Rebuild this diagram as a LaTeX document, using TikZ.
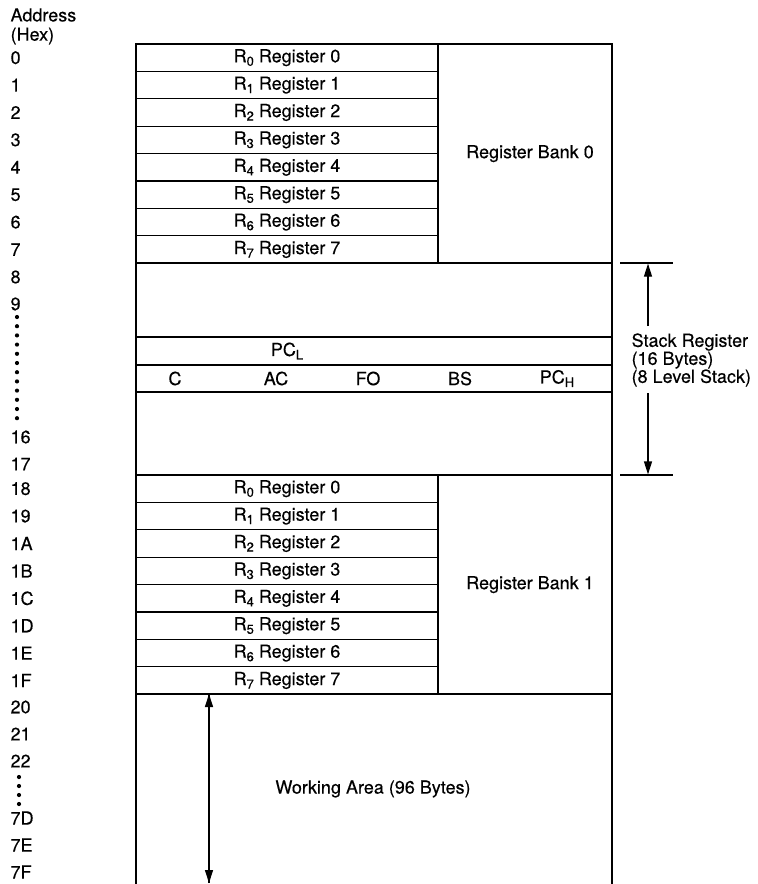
\documentclass[tikz,border=0pt]{standalone}
\usepackage{fontspec}
\setmainfont{TeX Gyre Heros}[FakeBold=0.35]
\usetikzlibrary{arrows.meta}
\newcommand\lowsub[1]{\raisebox{-3.5pt}{\fontsize{13}{13}\selectfont #1}}
\begin{document}
\begin{tikzpicture}[x=1pt,y=-1pt,line width=1.2pt,
  font=\fontsize{18}{18}\selectfont,
  txt/.style={inner sep=0pt},
  addr/.style={txt,anchor=west},
  regcell/.style={draw,anchor=north west,minimum width=302pt,minimum height=27.4pt,inner sep=0pt,outer sep=0pt},
  bankcell/.style={draw,anchor=north west,minimum width=174pt,minimum height=219.2pt,inner sep=0pt,outer sep=0pt},
  widecell/.style={draw,anchor=north west,minimum width=476pt,inner sep=0pt,outer sep=0pt},
  dimarrow/.style={-{Triangle[length=13pt,width=8pt]},line width=1.2pt},
  dot/.style={fill,circle,inner sep=0pt,minimum size=4.2pt}]
\useasboundingbox (0,0) rectangle (758,884);
% header
\node[addr] (hdr1) at (10,15) {Address};
\node[addr] (hdr2) at (10,36) {(Hex)};
% register bank 0
\foreach \i in {0,...,7}
  \node[regcell] (b0r\i) at (136,{44+27.4*\i}) {R\lowsub{\i} Register \i};
\node[bankcell] (bank0) at (438,44) {\hspace*{10pt}Register Bank 0};
% stack area
\node[widecell,minimum height=74pt] (stk1) at (136,263) {};
\node[widecell,minimum height=28pt] (stk2) at (136,337) {};
\node[widecell,minimum height=27pt] (stk3) at (136,365) {};
\node[widecell,minimum height=83pt] (stk4) at (136,392) {};
\node[txt] (pcl) at (287,351) {PC\lowsub{L}};
\node[txt] (fc) at (175,378.5) {C};
\node[txt] (fac) at (276,378.5) {AC};
\node[txt] (ffo) at (368,378.5) {FO};
\node[txt] (fbs) at (460,378.5) {BS};
\node[txt] (fpch) at (557,378.5) {PC\lowsub{H}};
% register bank 1
\foreach \i in {0,...,7}
  \node[regcell] (b1r\i) at (136,{475+27.4*\i}) {R\lowsub{\i} Register \i};
\node[bankcell] (bank1) at (438,475) {\hspace*{10pt}Register Bank 1};
% working area
\draw (136,884) -- (136,694) -- (612,694) -- (612,884);
\node[txt] (work) at (373,789) {Working Area (96 Bytes)};
\coordinate (wtop) at (209,694);
\coordinate (wbot) at (209,883);
\draw[dimarrow] (wtop) -- (wbot);
\draw[dimarrow] (wbot) -- (wtop);
% stack register dimension
\coordinate (tk1a) at (620,263);
\coordinate (tk1b) at (673,263);
\coordinate (tk2a) at (620,475);
\coordinate (tk2b) at (673,475);
\draw (tk1a) -- (tk1b);
\draw (tk2a) -- (tk2b);
\node[txt,anchor=west,align=left] (stklbl) at (631,360)
  {Stack Register\\[0pt](16 Bytes)\\[0pt](8 Level Stack)};
\coordinate (sa1) at (648,326);
\coordinate (sa2) at (648,393);
\draw[dimarrow] (sa1) -- (648,263.6);
\draw[dimarrow] (sa2) -- (648,474.4);
% addresses
\foreach \t/\y in {0/57.7,1/85.1,2/112.5,3/139.9,4/167.3,5/194.7,6/222.1,7/249.5,
  8/277,9/304,16/437,17/464,
  18/488.7,19/516.1,1A/543.5,1B/570.9,1C/598.3,1D/625.7,1E/653.1,1F/680.5,
  20/707,21/734,22/761,7D/818,7E/845,7F/872}
  \node[addr] (ad\t) at (10,\y) {\t};
\foreach \k in {0,...,11}
  \node[dot] (dA\k) at (17,{317+9.2*\k}) {};
\foreach \k in {0,...,3}
  \node[dot] (dB\k) at (19,{777+9*\k}) {};
\end{tikzpicture}
\end{document}
